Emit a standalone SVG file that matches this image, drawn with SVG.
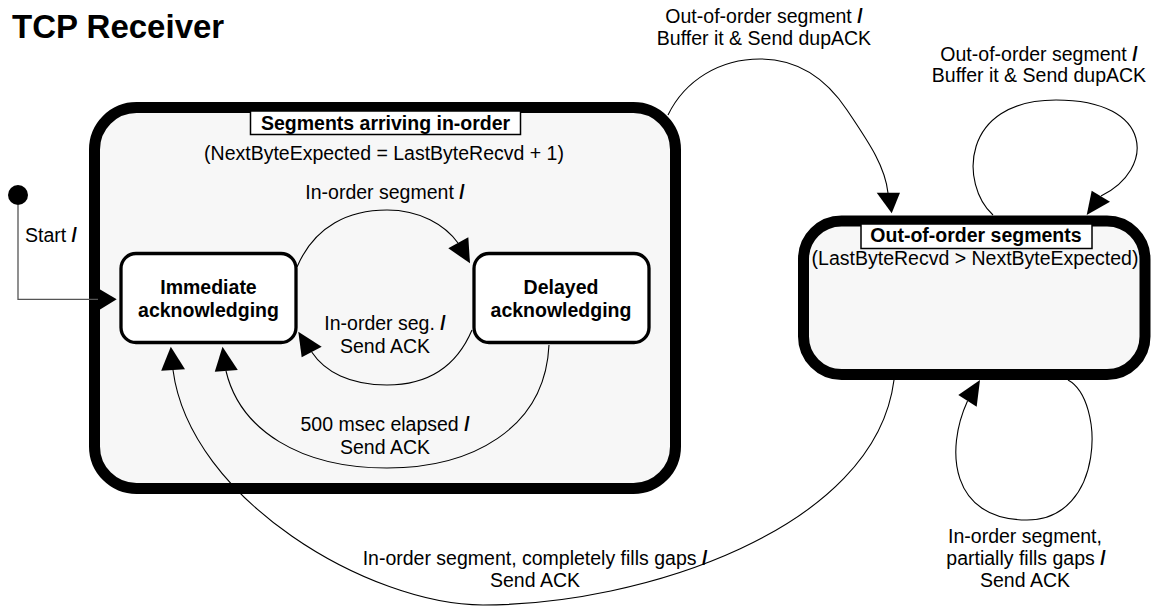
<svg xmlns="http://www.w3.org/2000/svg" width="1152" height="607" viewBox="0 0 1152 607">
<style>
text{font-family:"Liberation Sans",Arial,Helvetica,sans-serif;font-size:19.5px;fill:#000}
.b{font-weight:bold}
.c{text-anchor:middle}
.title{font-size:33px;font-weight:bold}
.super{fill:#f7f7f7;stroke:#000;stroke-width:11}
.state{fill:#fff;stroke:#000;stroke-width:3.3}
.tag{fill:#fff;stroke:#000;stroke-width:1.5}
.edge{fill:none;stroke:#000;stroke-width:1.1}
.start{fill:none;stroke:#555;stroke-width:1.3}
.head{fill:#000;stroke:none}
</style>
<rect width="1152" height="607" fill="#fff"/>
<text class="title" x="12" y="38">TCP Receiver</text>

<g id="in-order">
<rect class="super" x="94.5" y="107.5" width="581" height="381" rx="42"/>
<rect class="tag" x="250.5" y="111" width="270" height="23.5"/>
<text class="b c" x="385.6" y="129.5">Segments arriving in-order</text>
<text class="c" x="384" y="159.5">(NextByteExpected = LastByteRecvd + 1)</text>
</g>

<g id="out-of-order">
<rect class="super" x="803.5" y="221" width="341.5" height="153.5" rx="38"/>
<rect class="tag" x="861" y="224" width="231" height="24.5"/>
<text class="b c" x="976" y="241.7">Out-of-order segments</text>
<text class="c" x="975" y="264.5">(LastByteRecvd &gt; NextByteExpected)</text>
</g>

<g id="initial">
<circle cx="18" cy="195" r="10" fill="#000"/>
</g>

<g id="immediate">
<rect class="state" x="121" y="253.5" width="175" height="89" rx="15"/>
<text class="b c" x="208.5" y="294">Immediate</text>
<text class="b c" x="208.5" y="316.5">acknowledging</text>
</g>

<g id="delayed">
<rect class="state" x="474" y="253.5" width="175" height="89" rx="15"/>
<text class="b c" x="561" y="294">Delayed</text>
<text class="b c" x="561" y="316.5">acknowledging</text>
</g>

<g id="connectors">
<path class="start" d="M18,205 V299.3 H98"/>
<polygon class="head" points="98,288.3 116.7,299.3 98,310.7"/>
<text x="25" y="241.7">Start <tspan class="b">/</tspan></text>

<path class="edge" d="M297,267 C315,225 350,210 387,210 C420,210 445,225 458,243"/>
<polygon class="head" points="448.3,248.3 468.3,237.3 470,263.3"/>
<text class="c" x="385" y="199.3">In-order segment <tspan class="b">/</tspan></text>

<path class="edge" d="M472,330 C455,370 425,385 387,385 C350,385 325,372 311.7,352"/>
<polygon class="head" points="298.3,331.7 301.7,357.3 321.7,346.7"/>
<text class="c" x="385" y="330">In-order seg. <tspan class="b">/</tspan></text>
<text class="c" x="385" y="352.7">Send ACK</text>

<path class="edge" d="M549,345 C545,430 470,468 387,468 C300,468 240,430 226,371"/>
<polygon class="head" points="222.5,346.7 214.8,371.7 237.8,370"/>
<text class="c" x="385" y="430.7">500 msec elapsed <tspan class="b">/</tspan></text>
<text class="c" x="385" y="454">Send ACK</text>

<path class="edge" d="M894,380 C875,530 640,605 483,605 C370,605 190,500 173,370"/>
<polygon class="head" points="170.8,346.7 161.2,370.7 185,369.3"/>
<text class="c" x="535" y="565">In-order segment, completely fills gaps <tspan class="b">/</tspan></text>
<text class="c" x="535" y="587.3">Send ACK</text>

<path class="edge" d="M668,115 C685,80 720,59 760,59 C800,59 827,80 847,110 C867,140 885,165 888,193"/>
<polygon class="head" points="876.7,192.7 900,192.7 891.7,213.3"/>
<text class="c" x="764" y="23.3">Out-of-order segment <tspan class="b">/</tspan></text>
<text class="c" x="764" y="45">Buffer it &amp; Send dupACK</text>

<path class="edge" d="M993,215 C960,185 960,100 1056,100 C1155,100 1155,170 1101,196"/>
<polygon class="head" points="1086.7,215 1091.7,190.7 1110,201.7"/>
<text class="c" x="1039" y="60.7">Out-of-order segment <tspan class="b">/</tspan></text>
<text class="c" x="1039" y="81.7">Buffer it &amp; Send dupACK</text>

<path class="edge" d="M1068,380 C1105,400 1105,520 1027,520 C950,520 945,450 967.5,401"/>
<polygon class="head" points="980,380 958.3,395 976.7,406.7"/>
<text class="c" x="1025" y="542.7">In-order segment,</text>
<text class="c" x="1026" y="565">partially fills gaps <tspan class="b">/</tspan></text>
<text class="c" x="1025" y="587.3">Send ACK</text>
</g>
</svg>
